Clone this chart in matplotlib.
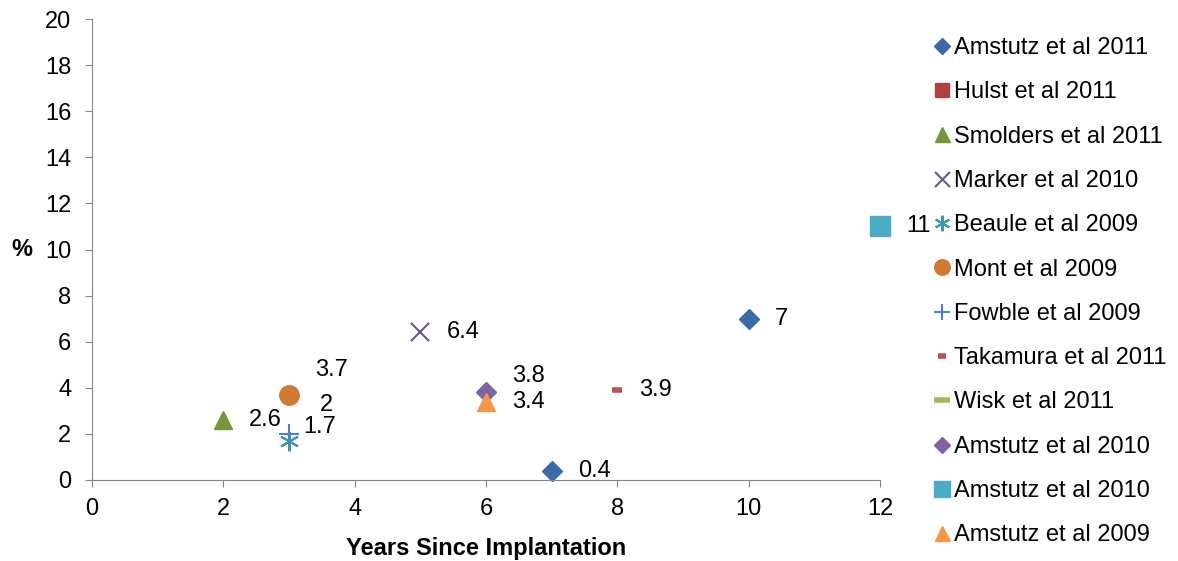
import matplotlib
matplotlib.use("Agg")
from matplotlib import pyplot as plt

plt.rcParams['font.family'] = ['Liberation Sans', 'DejaVu Sans']

# series: name, years, percent
names = ["Amstutz et al 2011", "Hulst et al 2011", "Smolders et al 2011",
         "Marker et al 2010", "Beaule et al 2009", "Mont et al 2009",
         "Fowble et al 2009", "Takamura et al 2011", "Wisk et al 2011",
         "Amstutz et al 2010", "Amstutz et al 2010", "Amstutz et al 2009"]
years = [[7, 10], [], [2], [5], [3], [3], [3], [8], [], [6], [12], [6]]
percent = [[0.4, 7], [], [2.6], [6.4], [1.7], [3.7], [2], [3.9], [], [3.8], [11], [3.4]]

xticks = [0, 2, 4, 6, 8, 10, 12]
yticks = [0, 2, 4, 6, 8, 10, 12, 14, 16, 18, 20]

# marker styling per series
styles = [
    dict(marker="D", color="#3D6AA5", ms=10),
    dict(marker="s", color="#B0413E", ms=12),
    dict(marker="^", color="#77963C", ms=13.5),
    dict(marker="x", color="#6B5690", ms=13.5, mew=1.5),
    dict(marker=(6, 2, 0), color="#3C97B0", ms=14, mew=1.5),
    dict(marker="o", color="#D07A34", ms=14),
    dict(marker="+", color="#4F81BD", ms=15, mew=1.5),
    dict(marker="_", color="#C0504D", ms=7, mew=4),
    dict(marker="_", color="#9BBB59", ms=14, mew=4),
    dict(marker="D", color="#8064A2", ms=10),
    dict(marker="s", color="#4BACC6", ms=14),
    dict(marker="^", color="#F79646", ms=13.5),
]

# label offsets in pixels (dx, dy) per series
offsets = [(26, 0), (26, 0), (26, 0), (26, 0), (14, 14), (26, 25), (31, 29),
           (22, 0), (26, 0), (26, 16), (26, 0), (26, 0)]

fig = plt.figure(figsize=(11.78, 5.61), dpi=100)
ax = fig.add_axes([92 / 1178, 81 / 561, 788 / 1178, 461 / 561])

handles = []
for i, name in enumerate(names):
    st = dict(styles[i])
    h, = ax.plot(years[i], percent[i], linestyle="none", marker=st.pop("marker"),
                 color=st.pop("color"), markersize=st.pop("ms"),
                 markeredgewidth=st.pop("mew", 1), label=name, clip_on=False)
    handles.append(h)
    for x, y in zip(years[i], percent[i]):
        ax.annotate(f"{y:g}", (x, y), xytext=offsets[i], textcoords="offset pixels",
                    ha="left", va="center", fontsize=17, color="black")

ax.set_xlim(0, 12)
ax.set_ylim(0, 20)
ax.set_xticks(xticks)
ax.set_yticks(yticks)
for s in ["top", "right"]:
    ax.spines[s].set_visible(False)
for s in ["left", "bottom"]:
    ax.spines[s].set_color("#868686")
ax.tick_params(axis="both", direction="out", length=5, color="#868686", labelsize=17)
ax.tick_params(axis="y", pad=10)
ax.tick_params(axis="x", pad=8)

ax.set_xlabel("Years Since Implantation", fontsize=17, fontweight="bold", labelpad=12)
ax.set_ylabel("%", fontsize=17, fontweight="bold", rotation=0, labelpad=0, va="center")
ax.yaxis.set_label_coords(-0.089, 0.5)

fig.legend(handles=handles, loc="upper left", bbox_to_anchor=(935 / 1178, 1 - 37 / 561),
           frameon=False, fontsize=17, handlelength=0.6, handletextpad=0.2,
           labelspacing=0.945, borderpad=0, borderaxespad=0, markerscale=0.8)

fig.savefig("out.png", dpi=100)
